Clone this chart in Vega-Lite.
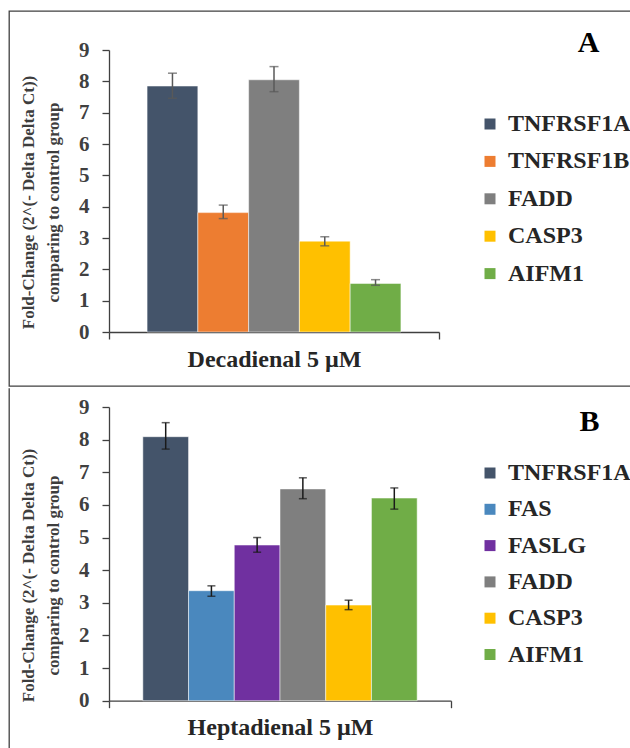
{
  "$schema": "https://vega.github.io/schema/vega-lite/v6.json",
  "padding": {"left": 8, "top": 10, "right": 0, "bottom": 0},
  "background": "white",
  "spacing": 0,
  "datasets": {
    "a": [
      {"group": "Decadienal 5 µM", "gene": "TNFRSF1A", "value": 7.85, "lo": 7.46, "hi": 8.26},
      {"group": "Decadienal 5 µM", "gene": "TNFRSF1B", "value": 3.81, "lo": 3.62, "hi": 4.05},
      {"group": "Decadienal 5 µM", "gene": "FADD", "value": 8.05, "lo": 7.67, "hi": 8.47},
      {"group": "Decadienal 5 µM", "gene": "CASP3", "value": 2.9, "lo": 2.75, "hi": 3.04},
      {"group": "Decadienal 5 µM", "gene": "AIFM1", "value": 1.55, "lo": 1.49, "hi": 1.67}
    ],
    "b": [
      {"group": "Heptadienal 5 µM", "gene": "TNFRSF1A", "value": 8.09, "lo": 7.71, "hi": 8.52},
      {"group": "Heptadienal 5 µM", "gene": "FAS", "value": 3.37, "lo": 3.2, "hi": 3.52},
      {"group": "Heptadienal 5 µM", "gene": "FASLG", "value": 4.77, "lo": 4.55, "hi": 5.0},
      {"group": "Heptadienal 5 µM", "gene": "FADD", "value": 6.49, "lo": 6.19, "hi": 6.83},
      {"group": "Heptadienal 5 µM", "gene": "CASP3", "value": 2.93, "lo": 2.79, "hi": 3.08},
      {"group": "Heptadienal 5 µM", "gene": "AIFM1", "value": 6.21, "lo": 5.87, "hi": 6.52}
    ]
  },
  "config": {
    "font": "Liberation Serif",
    "style": {
      "guide-label": {"font": "Liberation Serif", "fontWeight": "bold"},
      "guide-title": {"font": "Liberation Serif", "fontWeight": "bold"}
    },
    "axis": {
      "grid": false,
      "domainColor": "#404040",
      "domainWidth": 1.3,
      "tickColor": "#404040",
      "tickWidth": 1.3,
      "tickSize": 7,
      "labelFont": "Liberation Serif",
      "labelFontWeight": "bold",
      "labelColor": "#404040",
      "labelLimit": 400,
      "titleFont": "Liberation Serif",
      "titleFontWeight": "bold"
    },
    "legend": {
      "orient": "none",
      "title": null,
      "symbolType": "square",
      "symbolSize": 121,
      "symbolStrokeWidth": 0,
      "labelFont": "Liberation Serif",
      "labelFontWeight": "bold",
      "labelFontSize": 24,
      "labelColor": "#262626",
      "labelOffset": 6,
      "padding": 0,
      "labelLimit": 300
    }
  },
  "resolve": {
    "scale": {"color": "independent", "x": "independent", "y": "independent", "xOffset": "independent"},
    "legend": {"color": "independent"},
    "axis": {"x": "independent", "y": "independent"}
  },
  "vconcat": [
    {
      "width": 621,
      "height": 375,
      "view": {"stroke": "#404040", "strokeWidth": 1.3, "strokeDash": [621, 375, 996, 10], "fill": "white"},
      "data": {"name": "a"},
      "encoding": {
        "x": {
          "field": "group", "type": "nominal", "title": "A",
          "scale": {"range": [100, 430], "paddingInner": 0, "paddingOuter": 0},
          "axis": {"orient": "bottom", "offset": -54, "labelAngle": 0, "labelFont": "Liberation Serif", "labelFontWeight": "bold",
                   "labelFontSize": 24, "labelColor": "#262626", "labelPadding": 8, "labelLimit": 400, "tickBand": "extent",
                   "titleX": 579, "titleY": -281, "titleAlign": "center", "titleBaseline": "alphabetic", "titleAngle": 0,
                   "titleFontSize": 30, "titleColor": "#000000", "titleFont": "Liberation Serif", "titleFontWeight": "bold"}
        },
        "xOffset": {
          "field": "gene", "type": "nominal",
          "sort": ["TNFRSF1A", "TNFRSF1B", "FADD", "CASP3", "AIFM1"],
          "scale": {"paddingInner": 0, "paddingOuter": 0.75}
        }
      },
      "layer": [
        {
          "mark": {"type": "bar", "stroke": "white", "strokeWidth": 1, "strokeOpacity": 0.5},
          "encoding": {
            "y": {
              "field": "value", "type": "quantitative",
              "title": ["Fold-Change  (2^(- Delta Delta Ct))", "comparing  to control group"],
              "scale": {"domain": [0, 9], "range": [321, 39], "nice": false},
              "axis": {"values": [0, 1, 2, 3, 4, 5, 6, 7, 8, 9], "offset": -100, "labelFont": "Liberation Serif", "labelFontWeight": "bold",
                       "labelFontSize": 21, "labelPadding": 13,
                       "titleFontSize": 17, "titleColor": "#3d3d3d", "titleLineHeight": 25, "titleX": -89, "titleY": 191,
                       "titleAngle": -90, "titleBaseline": "top", "titleAlign": "center"}
            },
            "color": {
              "field": "gene", "type": "nominal",
              "scale": {"domain": ["TNFRSF1A", "TNFRSF1B", "FADD", "CASP3", "AIFM1"],
                        "range": ["#44546A", "#ED7D31", "#7F7F7F", "#FFC000", "#70AD47"]},
              "legend": {"legendX": 469, "legendY": 101, "rowPadding": 13.4, "labelFont": "Liberation Serif", "labelFontWeight": "bold"}
            }
          }
        },
        {
          "mark": {"type": "rule", "color": "#595959", "strokeWidth": 1.5},
          "encoding": {"y": {"field": "lo", "type": "quantitative"}, "y2": {"field": "hi"}}
        },
        {
          "mark": {"type": "tick", "color": "#595959", "thickness": 1.5, "size": 9},
          "encoding": {"y": {"field": "lo", "type": "quantitative"}}
        },
        {
          "mark": {"type": "tick", "color": "#595959", "thickness": 1.5, "size": 9},
          "encoding": {"y": {"field": "hi", "type": "quantitative"}}
        }
      ]
    },
    {
      "width": 621,
      "height": 362,
      "view": {"stroke": "#404040", "strokeWidth": 1.3, "strokeDash": [0, 1604, 362, 10], "fill": "white"},
      "data": {"name": "b"},
      "encoding": {
        "x": {
          "field": "group", "type": "nominal", "title": "B",
          "scale": {"range": [100, 442], "paddingInner": 0, "paddingOuter": 0},
          "axis": {"orient": "bottom", "offset": -49.3, "labelAngle": 0, "labelFont": "Liberation Serif", "labelFontWeight": "bold",
                   "labelFontSize": 24, "labelColor": "#262626", "labelPadding": 8, "labelLimit": 400, "tickBand": "extent",
                   "titleX": 580, "titleY": -270, "titleAlign": "center", "titleBaseline": "alphabetic", "titleAngle": 0,
                   "titleFontSize": 30, "titleColor": "#000000", "titleFont": "Liberation Serif", "titleFontWeight": "bold"}
        },
        "xOffset": {
          "field": "gene", "type": "nominal",
          "sort": ["TNFRSF1A", "FAS", "FASLG", "FADD", "CASP3", "AIFM1"],
          "scale": {"paddingInner": 0, "paddingOuter": 0.74}
        }
      },
      "layer": [
        {
          "mark": {"type": "bar", "stroke": "white", "strokeWidth": 1, "strokeOpacity": 0.5},
          "encoding": {
            "y": {
              "field": "value", "type": "quantitative",
              "title": ["Fold-Change  (2^(- Delta Delta Ct))", "comparing  to control group"],
              "scale": {"domain": [0, 9], "range": [312.7, 19], "nice": false},
              "axis": {"values": [0, 1, 2, 3, 4, 5, 6, 7, 8, 9], "offset": -100, "labelFont": "Liberation Serif", "labelFontWeight": "bold",
                       "labelFontSize": 21, "labelPadding": 13,
                       "titleFontSize": 17, "titleColor": "#3d3d3d", "titleLineHeight": 25, "titleX": -89, "titleY": 187,
                       "titleAngle": -90, "titleBaseline": "top", "titleAlign": "center"}
            },
            "color": {
              "field": "gene", "type": "nominal",
              "scale": {"domain": ["TNFRSF1A", "FAS", "FASLG", "FADD", "CASP3", "AIFM1"],
                        "range": ["#44546A", "#4A88BE", "#7030A0", "#7F7F7F", "#FFC000", "#70AD47"]},
              "legend": {"legendX": 469, "legendY": 73, "rowPadding": 12.3, "labelFont": "Liberation Serif", "labelFontWeight": "bold"}
            }
          }
        },
        {
          "mark": {"type": "rule", "color": "#1a1a1a", "strokeWidth": 1.5},
          "encoding": {"y": {"field": "lo", "type": "quantitative"}, "y2": {"field": "hi"}}
        },
        {
          "mark": {"type": "tick", "color": "#1a1a1a", "thickness": 1.5, "size": 8},
          "encoding": {"y": {"field": "lo", "type": "quantitative"}}
        },
        {
          "mark": {"type": "tick", "color": "#1a1a1a", "thickness": 1.5, "size": 8},
          "encoding": {"y": {"field": "hi", "type": "quantitative"}}
        }
      ]
    }
  ]
}
